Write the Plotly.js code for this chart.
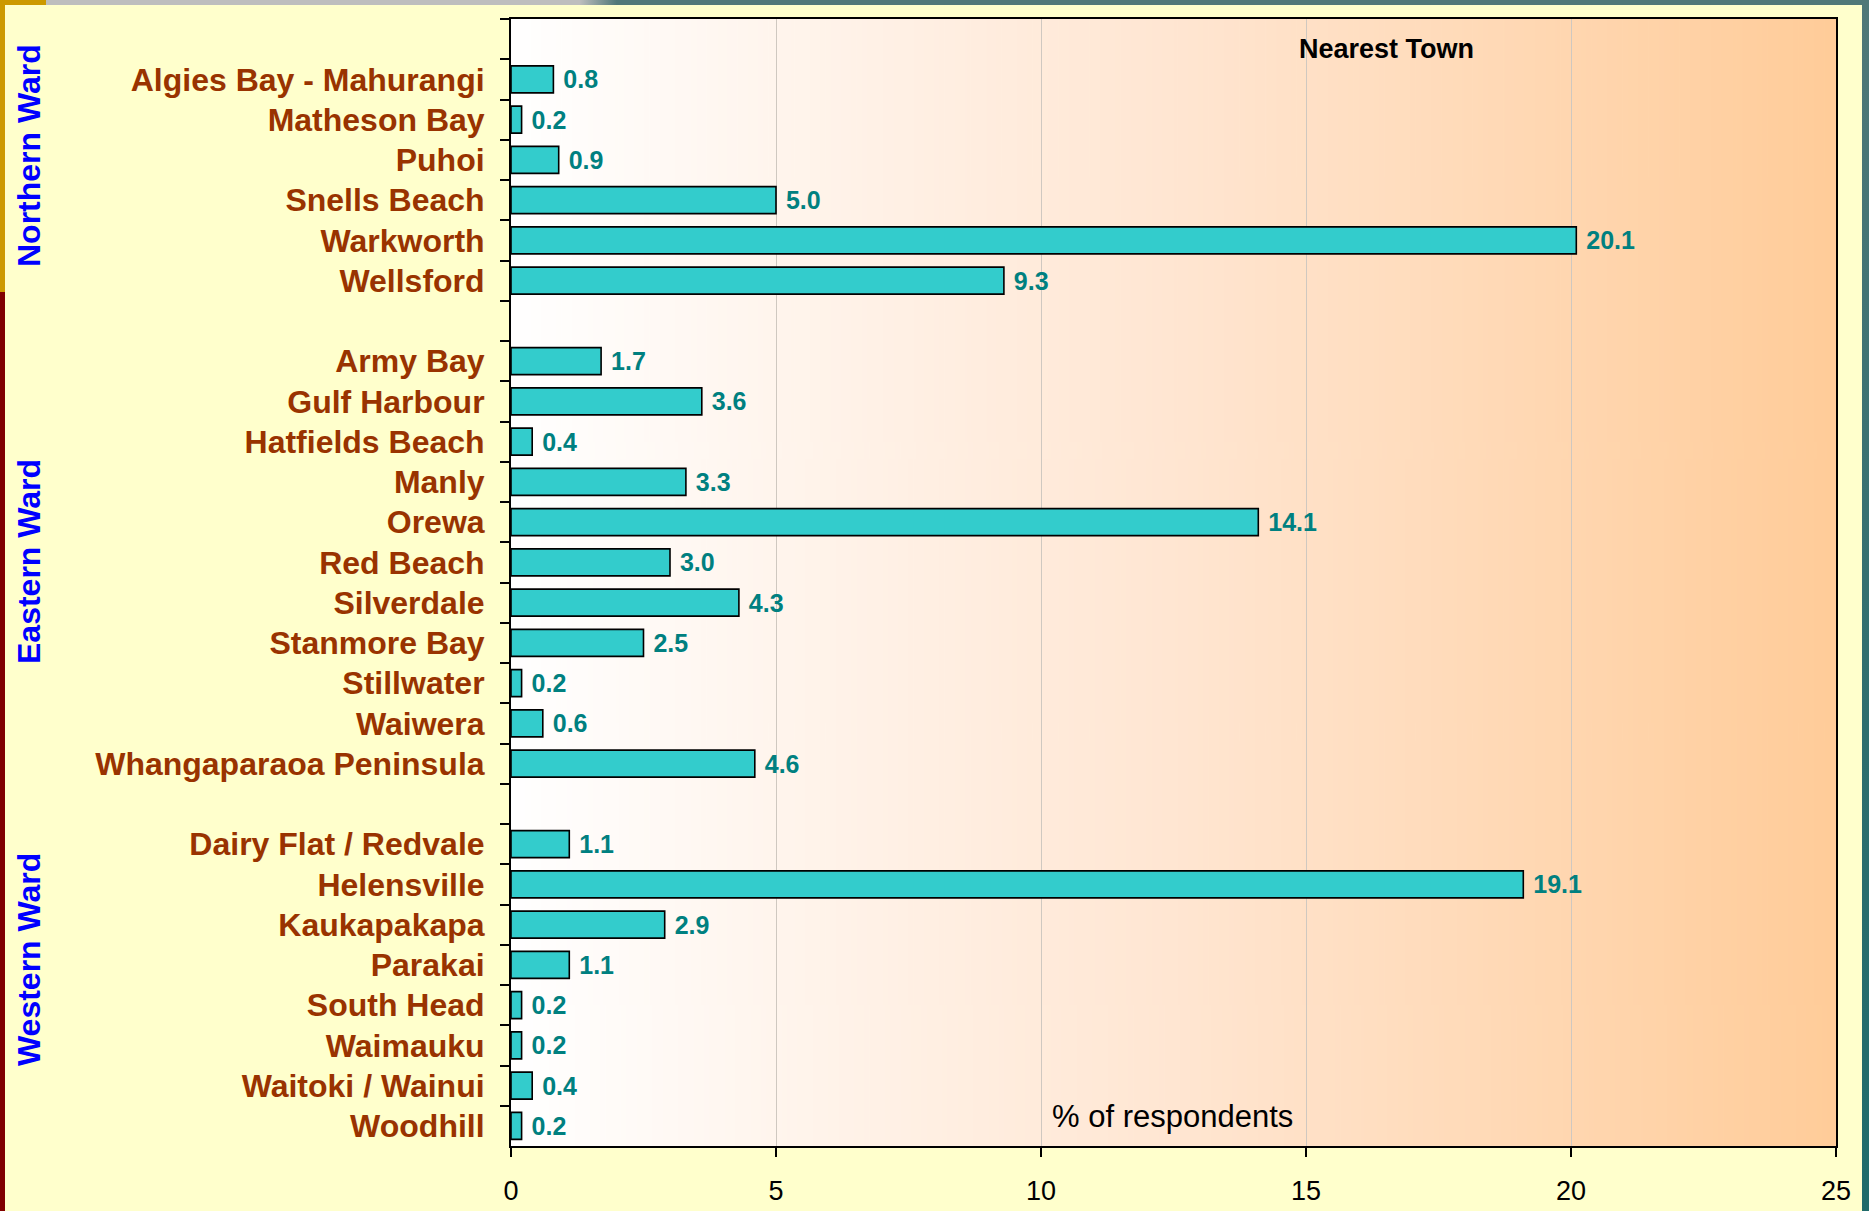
<!DOCTYPE html>
<html>
<head>
<meta charset="utf-8">
<script src="https://cdn.plot.ly/plotly-3.0.1.min.js"></script>
<style>
  html, body { margin: 0; padding: 0; background: #FFFFCC; }
  #wrap { position: relative; width: 1869px; height: 1211px; overflow: hidden; }
  #chart { position: absolute; left: 0; top: 0; width: 1869px; height: 1211px; }
  .strip { position: absolute; pointer-events: none; }
</style>
</head>
<body>
<div id="wrap">
  <div id="chart"></div>
  <div class="strip" style="left:0;top:0;width:1869px;height:5px;background:linear-gradient(90deg,#BEBEBE 0%,#BEBEBE 31%,#507878 33%,#507878 100%);"></div>
  <div class="strip" style="left:0;top:0;width:46px;height:5px;background:#CC9900;"></div>
  <div class="strip" style="left:0;top:0;width:5px;height:292px;background:#CC9900;"></div>
  <div class="strip" style="left:0;top:292px;width:5px;height:919px;background:#800000;"></div>
  <div class="strip" style="left:1862px;top:0;width:7px;height:1211px;background:linear-gradient(180deg,#507878 0%,#2E6E6E 60%,#1F6B6B 100%);"></div>
</div>
<script>
// ---- Data ----
const northernTowns = ["Algies Bay - Mahurangi", "Matheson Bay", "Puhoi", "Snells Beach", "Warkworth", "Wellsford"];
const northernValues = [0.8, 0.2, 0.9, 5.0, 20.1, 9.3];

const easternTowns = ["Army Bay", "Gulf Harbour", "Hatfields Beach", "Manly", "Orewa", "Red Beach",
  "Silverdale", "Stanmore Bay", "Stillwater", "Waiwera", "Whangaparaoa Peninsula"];
const easternValues = [1.7, 3.6, 0.4, 3.3, 14.1, 3.0, 4.3, 2.5, 0.2, 0.6, 4.6];

const westernTowns = ["Dairy Flat / Redvale", "Helensville", "Kaukapakapa", "Parakai", "South Head",
  "Waimauku", "Waitoki / Wainui", "Woodhill"];
const westernValues = [1.1, 19.1, 2.9, 1.1, 0.2, 0.2, 0.4, 0.2];

const wardNames = ["Northern Ward", "Eastern Ward", "Western Ward"];
const xTickValues = [0, 5, 10, 15, 20, 25];
const chartTitle = "Nearest Town";
const axisTitle = "% of respondents";

// ---- Build category list with spacer rows between wards ----
const groups = [
  [northernTowns, northernValues],
  [easternTowns, easternValues],
  [westernTowns, westernValues]
];
const cats = [];
const vals = [];
let spacer = " ";
groups.forEach(([towns, values]) => {
  cats.push(spacer); vals.push(null); spacer += " ";
  towns.forEach((t, i) => { cats.push(t); vals.push(values[i]); });
});

// ---- Gradient background image ----
const cv = document.createElement("canvas");
cv.width = 512; cv.height = 4;
const ctx = cv.getContext("2d");
const g = ctx.createLinearGradient(0, 0, 512, 0);
g.addColorStop(0, "#FFFFFF");
g.addColorStop(0.5, "#FFE6D2");
g.addColorStop(1, "#FFCC99");
ctx.fillStyle = g;
ctx.fillRect(0, 0, 512, 4);
const bgUrl = cv.toDataURL("image/png");

// ---- Layout geometry helpers (pixel -> paper) ----
const W = 1869, H = 1211;
const mL = 511, mR = 33, mT = 19, mB = 65;
const pw = W - mL - mR, ph = H - mT - mB;
const px = x => (x - mL) / pw;
const py = y => (H - mB - y) / ph;

const FONT = "Liberation Sans, Arial, sans-serif";

const trace = {
  type: "bar",
  orientation: "h",
  x: vals,
  y: cats,
  marker: { color: "#33CCCC", line: { color: "#000000", width: 1.6 } },
  texttemplate: "\u00a0%{x:.1f}",
  textposition: "outside",
  textfont: { family: FONT, size: 25, color: "#008080", weight: "bold" },
  cliponaxis: false,
  constraintext: "none",
  hoverinfo: "x+y"
};

const layout = {
  width: W, height: H,
  margin: { l: mL, r: mR, t: mT, b: mB, pad: 0 },
  paper_bgcolor: "rgba(0,0,0,0)",
  plot_bgcolor: "#FFFFFF",
  bargap: 0.33,
  showlegend: false,
  font: { family: FONT },
  xaxis: {
    range: [0, 25],
    tickvals: xTickValues,
    ticks: "outside", ticklen: 9, tickwidth: 2, tickcolor: "#000",
    tickfont: { family: FONT, size: 27, color: "#000" },
    ticklabelstandoff: 11,
    showline: true, linecolor: "#000", linewidth: 2, mirror: true,
    showgrid: true, gridcolor: "#CFC8C0", gridwidth: 1,
    zeroline: false, fixedrange: true
  },
  yaxis: {
    type: "category",
    categoryorder: "array", categoryarray: cats,
    range: [cats.length - 0.5, -0.5],
    tickson: "boundaries",
    ticks: "outside", ticklen: 9, tickwidth: 2, tickcolor: "#000",
    tickfont: { family: FONT, size: 32, color: "#993300", weight: "bold" },
    ticklabelstandoff: 18,
    showline: true, linecolor: "#000", linewidth: 2, mirror: true,
    showgrid: false, zeroline: false, fixedrange: true
  },
  images: [{
    source: bgUrl, xref: "paper", yref: "paper",
    x: 0, y: 1, sizex: 1, sizey: 1, sizing: "stretch",
    xanchor: "left", yanchor: "top", layer: "below"
  }],
  annotations: [
    { text: chartTitle, xref: "paper", yref: "paper", x: px(1386), y: py(49),
      xanchor: "center", yanchor: "middle", showarrow: false,
      font: { family: FONT, size: 27, color: "#000", weight: "bold" } },
    { text: axisTitle, xref: "paper", yref: "paper", x: px(1172), y: py(1116),
      xanchor: "center", yanchor: "middle", showarrow: false,
      font: { family: FONT, size: 31, color: "#000" } },
    { text: wardNames[0], xref: "paper", yref: "paper", x: px(29), y: py(156),
      textangle: -90, xanchor: "center", yanchor: "middle", showarrow: false,
      font: { family: FONT, size: 32, color: "#0000FF", weight: "bold" } },
    { text: wardNames[1], xref: "paper", yref: "paper", x: px(29), y: py(562),
      textangle: -90, xanchor: "center", yanchor: "middle", showarrow: false,
      font: { family: FONT, size: 32, color: "#0000FF", weight: "bold" } },
    { text: wardNames[2], xref: "paper", yref: "paper", x: px(29), y: py(960),
      textangle: -90, xanchor: "center", yanchor: "middle", showarrow: false,
      font: { family: FONT, size: 32, color: "#0000FF", weight: "bold" } }
  ]
};

Plotly.newPlot("chart", [trace], layout, { displayModeBar: false, staticPlot: true });
</script>
</body>
</html>
